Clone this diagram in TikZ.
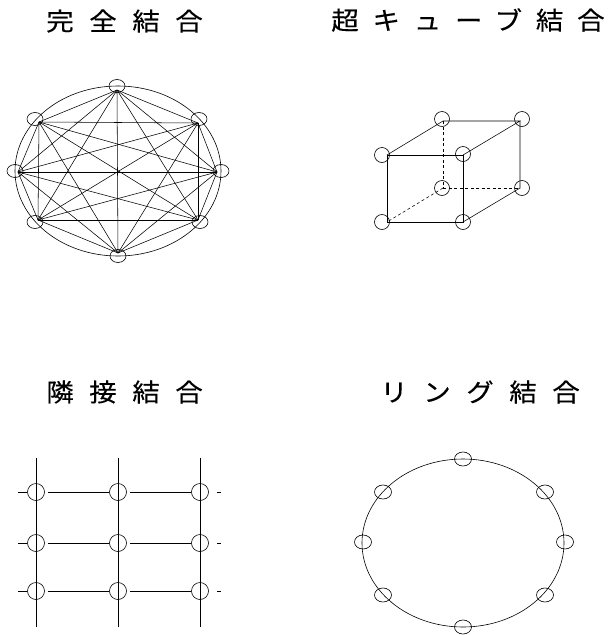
\documentclass[tikz,border=0pt]{standalone}
\usepackage{fontspec}
\newfontfamily\jpfont[FakeStretch=1.1, FakeBold=0.25, LetterSpace=62]{Noto Sans CJK JP}
\newfontfamily\jpfontb[FakeStretch=1.1, FakeBold=0.25, LetterSpace=55]{Noto Sans CJK JP}
\usetikzlibrary{shapes.geometric}
\begin{document}
\begin{tikzpicture}[x=1pt,y=-1pt, line width=0.6pt,
  title/.style={font=\jpfont\fontsize{25}{25}\selectfont, inner sep=0pt, anchor=west},
  titleb/.style={font=\jpfontb\fontsize{25}{25}\selectfont, inner sep=0pt, anchor=west},
  knode/.style={draw, ellipse, minimum width=16pt, minimum height=13pt, inner sep=0pt},
  hnode/.style={draw, circle, minimum size=15pt, inner sep=0pt},
  gnode/.style={draw, circle, minimum size=17pt, inner sep=0pt},
  rnode/.style={draw, ellipse, minimum width=17pt, minimum height=14pt, inner sep=0pt},
  edge/.style={line width=0.55pt},
  hidden/.style={dashed, dash pattern=on 3pt off 2.5pt}]
\useasboundingbox (0,0) rectangle (611,635);

% ---------- titles ----------
\node[title] (t1) at (46,21) {完全結合};
\node[titleb] (t2) at (331,20) {超キューブ結合};
\node[title] (t3) at (46,392) {隣接結合};
\node[title] (t4) at (380,392) {リング結合};

% ---------- complete graph ----------
\node[draw, ellipse, minimum width=206pt, minimum height=170pt, inner sep=0pt] (kring) at (118,171) {};
\coordinate (c1) at (117,90);
\coordinate (c2) at (198,123);
\coordinate (c3) at (217,172);
\coordinate (c4) at (198,220);
\coordinate (c5) at (118,253);
\coordinate (c6) at (38,220);
\coordinate (c7) at (18,172);
\coordinate (c8) at (39,122);
\foreach \i in {1,...,7}{
  \pgfmathtruncatemacro\k{\i+1}
  \foreach \j in {\k,...,8}{\draw[edge] (c\i) -- (c\j);}
}
\node[knode] (k1) at (117,86) {};
\node[knode] (k2) at (199,119) {};
\node[knode] (k3) at (221,171) {};
\node[knode] (k4) at (200,222) {};
\node[knode] (k5) at (118,256) {};
\node[knode] (k6) at (35,222) {};
\node[knode] (k7) at (15,171) {};
\node[knode] (k8) at (35,119) {};

% ---------- hypercube ----------
\coordinate (h1) at (387,155);
\coordinate (h2) at (463,155);
\coordinate (h3) at (443,121);
\coordinate (h4) at (520,121);
\coordinate (h5) at (443,188);
\coordinate (h6) at (520,188);
\coordinate (h7) at (387,222);
\coordinate (h8) at (463,222);
\draw[edge] (h1) -- (h2) -- (h8) -- (h7) -- cycle;
\draw[edge] (h1) -- (h3) -- (h4) -- (h2);
\draw[edge] (h4) -- (h6) -- (h8);
\draw[edge, hidden] (h3) -- (h5);
\draw[edge, hidden] (h5) -- (h6);
\draw[edge, hidden] (h5) -- (h7);
\node[hnode] (n1) at (382,155) {};
\node[hnode] (n2) at (463,154) {};
\node[hnode] (n3) at (442,119) {};
\node[hnode] (n4) at (522,119) {};
\node[hnode] (n5) at (442,188) {};
\node[hnode] (n6) at (522,188) {};
\node[hnode] (n7) at (382,222) {};
\node[hnode] (n8) at (463,222) {};

% ---------- mesh ----------
\foreach \c/\x in {1/36,2/118,3/200}{
  \coordinate (vt\c) at (\x,458);
  \coordinate (vb\c) at (\x,627);
  \draw[edge] (vt\c) -- (vb\c);
}
\foreach \r/\y in {1/492,2/543,3/591}{
  \foreach \c/\x in {1/36,2/118,3/200}{
    \node[gnode] (g\c\r) at (\x,\y) {};
  }
  \coordinate (ls\r) at (18,\y);
  \coordinate (rs\r) at (221,\y);
  \draw[edge] (ls\r) -- (g1\r.west);
  \draw[edge, shorten <=3pt] (g1\r.east) -- (g2\r.west);
  \draw[edge, shorten <=3pt] (g2\r.east) -- (g3\r.west);
  \draw[edge, shorten <=8pt] (g3\r.east) -- (rs\r);
}

% ---------- ring ----------
\node[draw, ellipse, minimum width=202pt, minimum height=168pt, inner sep=0pt] (ring) at (463,543) {};
\node[rnode] (r1) at (463,459) {};
\node[rnode] (r2) at (545,492) {};
\node[rnode] (r3) at (565,542) {};
\node[rnode] (r4) at (545,595) {};
\node[rnode] (r5) at (463,627) {};
\node[rnode] (r6) at (383,595) {};
\node[rnode] (r7) at (363,542) {};
\node[rnode] (r8) at (383,492) {};
\end{tikzpicture}
\end{document}
